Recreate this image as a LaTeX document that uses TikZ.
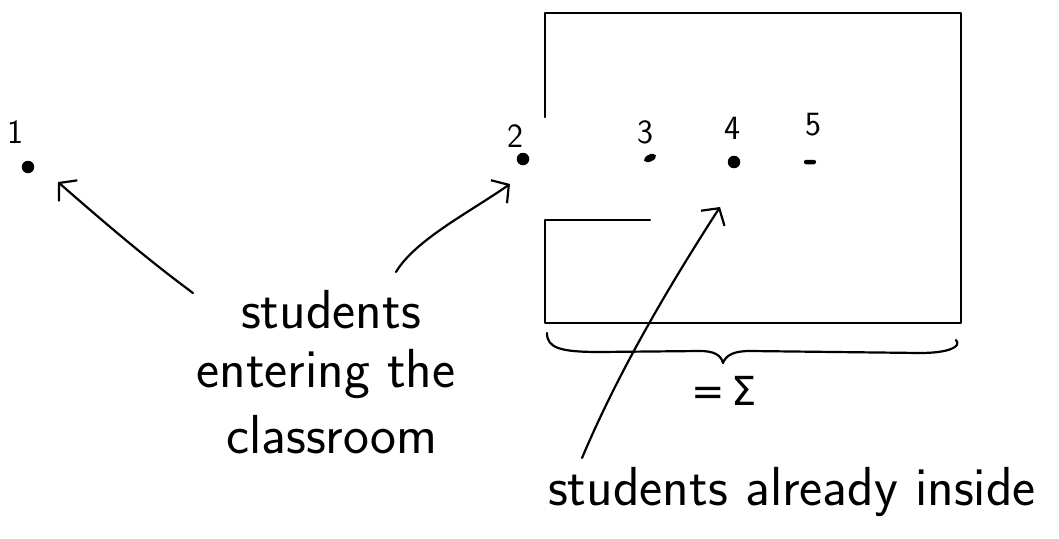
\documentclass[tikz,border=0pt]{standalone}
\usepackage{fontspec}
\newfontfamily\symfont{DejaVu Sans}
\usetikzlibrary{arrows.meta,shapes.geometric}
\begin{document}
\begin{tikzpicture}[x=1pt,y=-1pt,
  ink/.style={line width=2.2pt,line cap=round,line join=round},
  arr/.style={ink,-{Straight Barb[length=12pt,width=28pt,line width=2.2pt]}},
  dotmark/.style={circle,fill,inner sep=0pt,minimum size=12.5pt},
  num/.style={font=\sffamily\fontsize{34}{34}\selectfont,inner sep=0pt},
  txt/.style={font=\sffamily\fontsize{55}{62}\selectfont,inner sep=0pt,anchor=base}]
\useasboundingbox (0,0) rectangle (1059,538);
% room
\draw[ink] (545,117) -- (545,13) -- (961,13) -- (961,323) -- (545,323) -- (545,220) -- (650,220);
% students
\node[dotmark] (d1) at (28,167) {};
\node[num] (n1) at (15,132) {1};
\node[dotmark] (d2) at (523,159) {};
\node[num] (n2) at (515,136) {2};
\node[ellipse,fill,inner sep=0pt,minimum width=13pt,minimum height=7pt,rotate=25] (d3) at (650,158) {};
\node[num] (n3) at (645,132) {3};
\node[dotmark] (d4) at (734,162) {};
\node[num] (n4) at (732,128) {4};
\node[fill,inner sep=0pt,minimum width=12pt,minimum height=4.5pt,rounded corners=2pt] (d5) at (810,162) {};
\node[num] (n5) at (813,125) {5};
% texts
\node[txt] (enter1) at (331,328) {students};
\node[txt] (enter2) at (326,387) {entering the};
\node[txt] (enter3) at (332,453) {classroom};
\node[txt] (inside) at (792,505) {students already inside};
\node[font=\symfont\fontsize{40}{40}\selectfont,inner sep=0pt] (sum) at (724,391) {=\,Σ};
% arrow ends
\coordinate (a1s) at (193,293);
\coordinate (a1e) at (58,182);
\coordinate (a2s) at (396,272);
\coordinate (a2e) at (510,184);
\coordinate (a3s) at (582,458);
\coordinate (a3e) at (720,207);
\draw[arr] (a1s) .. controls (155,265) and (115,232) .. (a1e);
\draw[arr] (a2s) .. controls (415,240) and (470,212) .. (a2e);
\draw[arr] (a3s) .. controls (615,380) and (660,300) .. (a3e);
% brace
\draw[ink] (547,333) .. controls (547,348) and (560,352) .. (600,352)
  -- (700,351) .. controls (714,351) and (721,355) .. (723,363)
  .. controls (726,355) and (734,351) .. (750,351)
  -- (920,353) .. controls (948,353) and (962,347) .. (956,340);
\end{tikzpicture}
\end{document}
